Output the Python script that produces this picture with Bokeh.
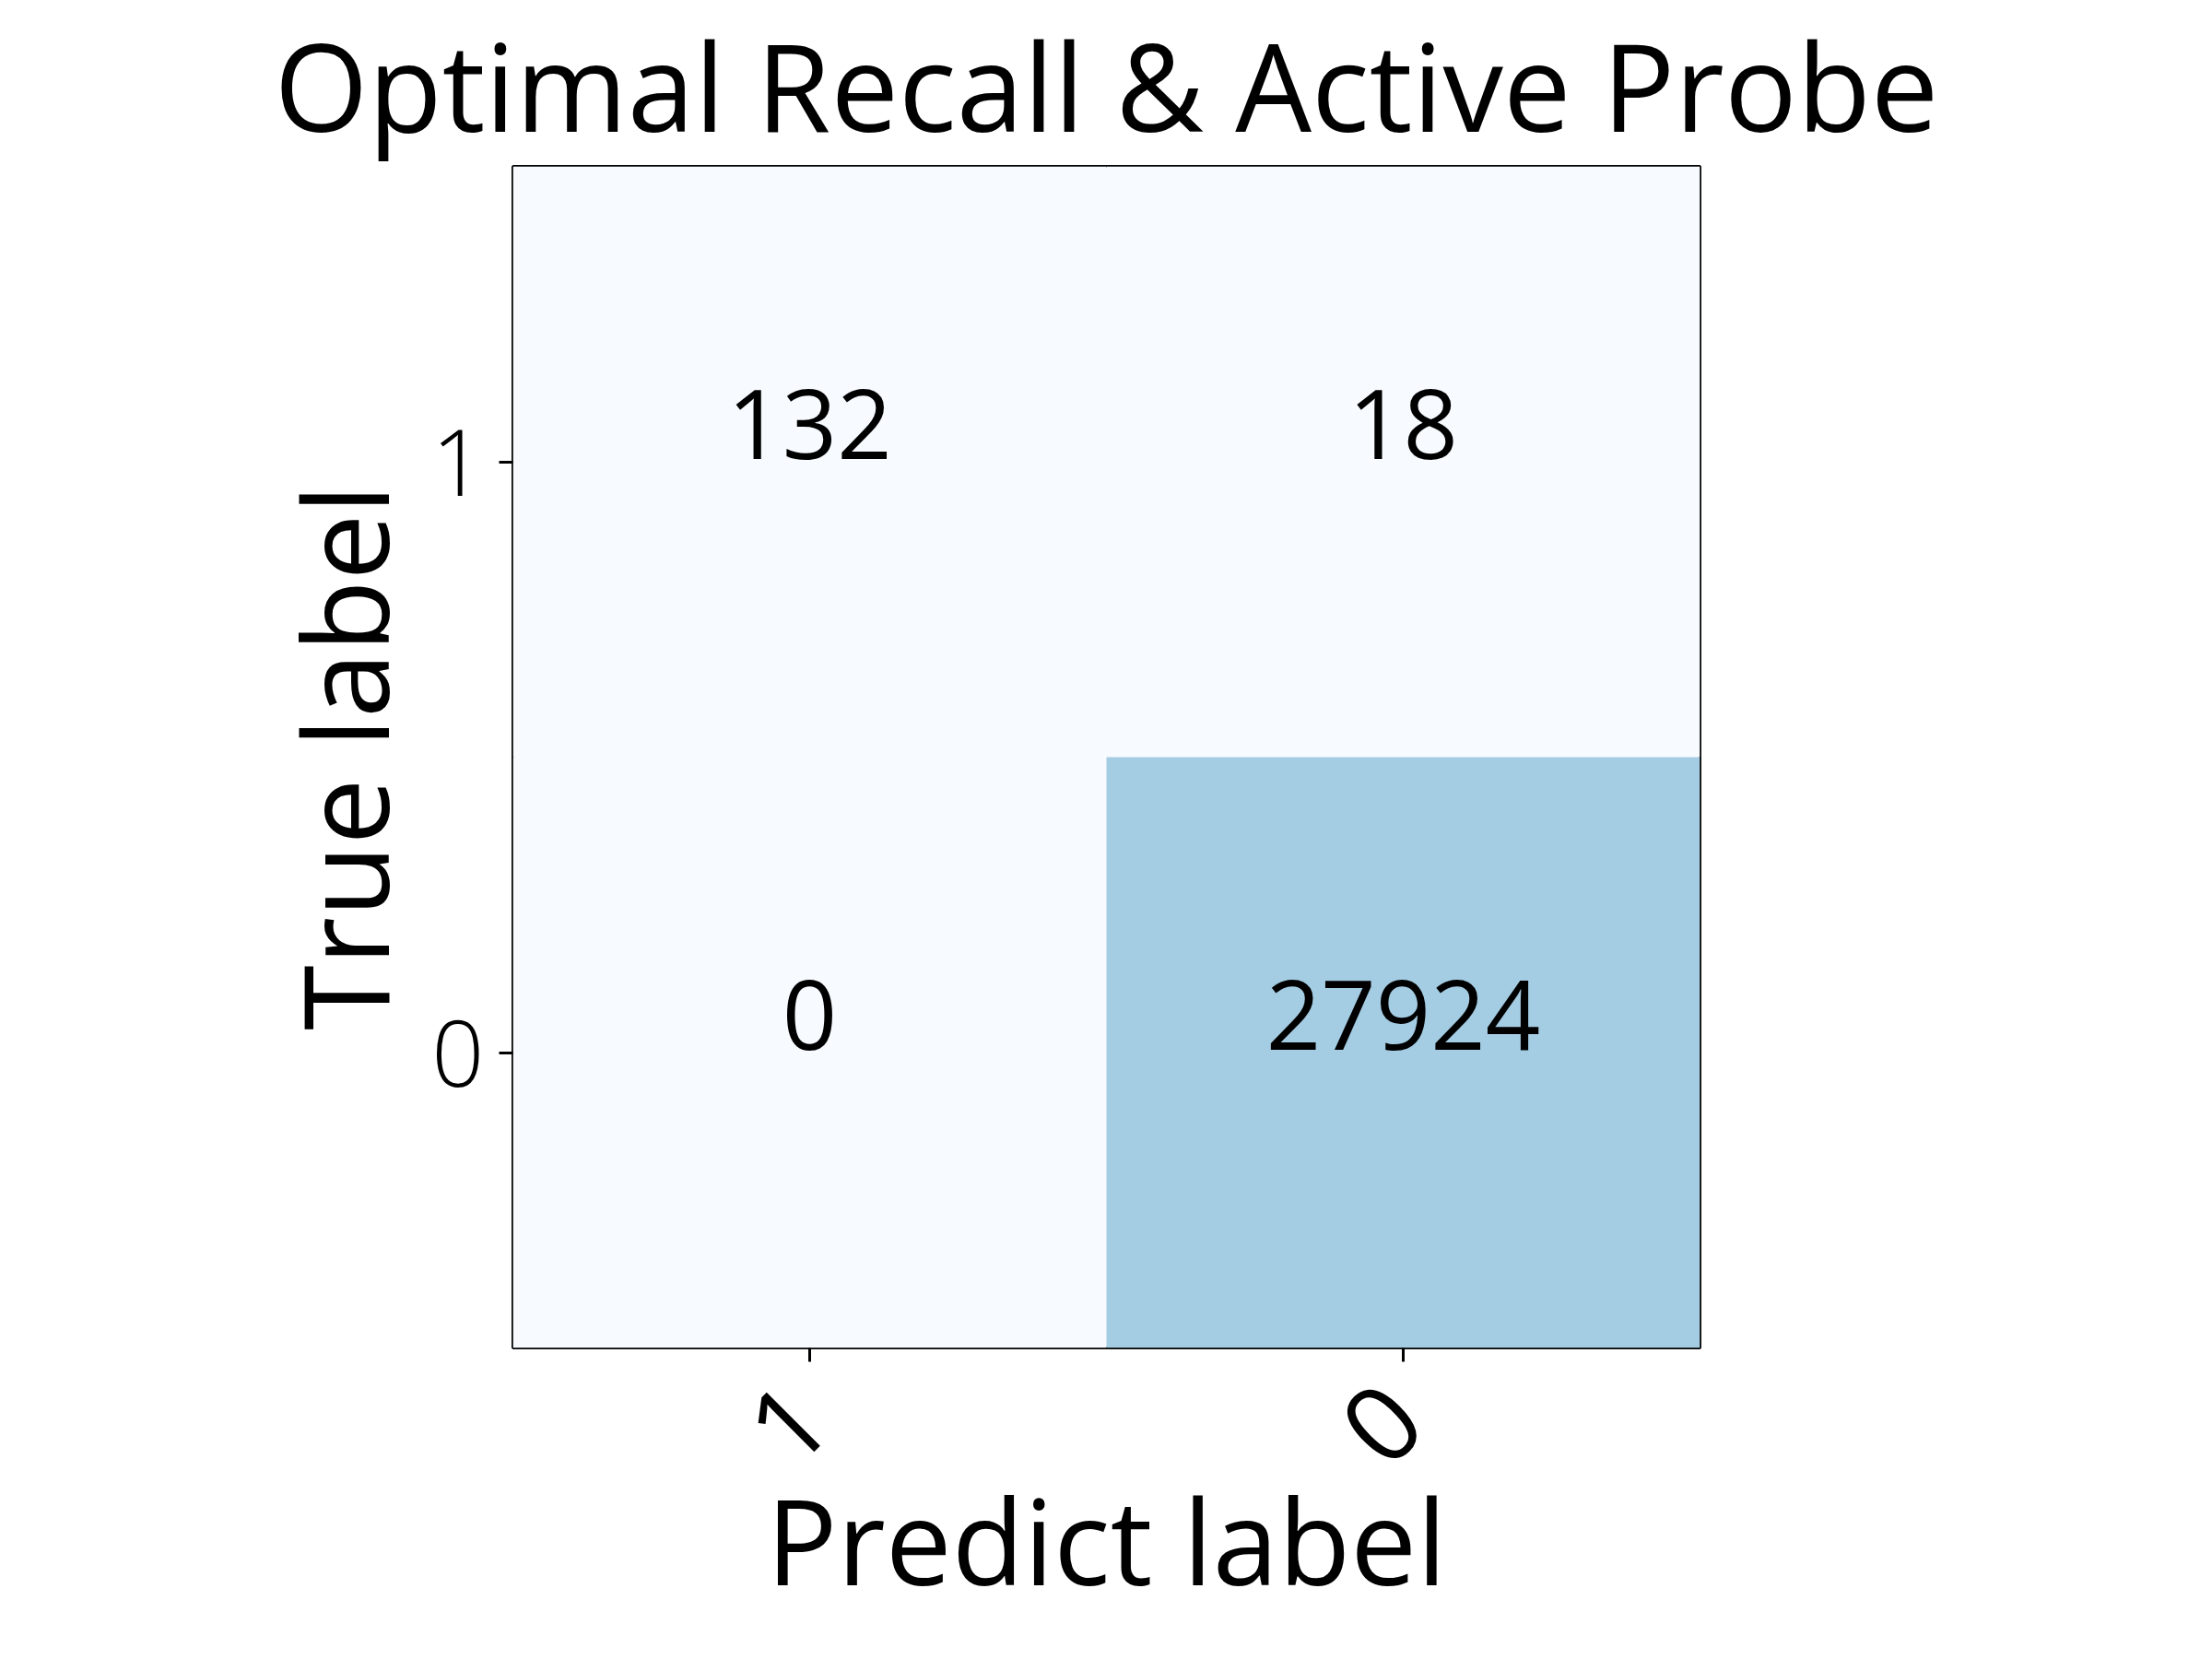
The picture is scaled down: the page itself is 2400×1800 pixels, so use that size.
from bokeh.plotting import figure
from bokeh.models import ColumnDataSource, LinearColorMapper, Title
from bokeh.palettes import Blues256
from bokeh.embed import file_html
from bokeh.resources import INLINE
from bokeh.core.properties import value
import math

# Data
predict_labels = ["1", "0", "1", "0"]
true_labels = ["1", "1", "0", "0"]
counts = [132, 18, 0, 27924]
x_categories = ["1", "0"]
y_categories = ["0", "1"]
title_text = "Optimal Recall & Active Probe"
x_title = "Predict label"
y_title = "True label"

FONT = "Open Sans"

src = ColumnDataSource(dict(
    px=predict_labels,
    ty=true_labels,
    n=counts,
    txt=[str(c) for c in counts],
))

palette = list(reversed(Blues256))
mapper = LinearColorMapper(palette=palette, low=0, high=78000)

p = figure(width=2384, height=1784, x_range=x_categories, y_range=y_categories,
           output_backend="svg", toolbar_location=None,
           min_border_left=556, min_border_right=540,
           min_border_top=174, min_border_bottom=322)
p.title = Title(text=title_text, align="center", text_font=FONT,
                text_font_size="131px", text_font_style="normal",
                text_color="black", standoff=0)
p.title.offset = 0

p.rect(x="px", y="ty", width=1, height=1, source=src,
       fill_color={"field": "n", "transform": mapper}, line_color=None)
p.text(x="px", y="ty", text="txt", source=src, text_align="center",
       text_baseline="alphabetic", y_offset=-41, text_font=value(FONT),
       text_font_size="104px", text_color="black")

p.grid.visible = False
p.outline_line_color = "black"
p.outline_line_width = 3
p.background_fill_color = "white"

for ax in (p.xaxis[0], p.yaxis[0]):
    ax.axis_line_color = None
    ax.major_tick_in = 0
    ax.major_tick_out = 15
    ax.major_tick_line_width = 3
    ax.major_tick_line_color = "black"
    ax.major_label_text_font = FONT
    ax.major_label_text_font_size = "100px"
    ax.major_label_text_color = "black"
    ax.axis_label_text_font = FONT
    ax.axis_label_text_font_size = "128px"
    ax.axis_label_text_font_style = "normal"
    ax.axis_label_text_color = "black"

p.xaxis[0].axis_label = x_title
p.yaxis[0].axis_label = y_title
p.xaxis[0].major_label_orientation = math.pi / 4
p.xaxis[0].major_label_text_font_size = "115px"
p.xaxis[0].major_label_standoff = 44
p.yaxis[0].major_label_standoff = 16
p.xaxis[0].axis_label_standoff = -47
p.yaxis[0].axis_label_standoff = 5

open("out.html", "w").write(file_html(p, INLINE))
